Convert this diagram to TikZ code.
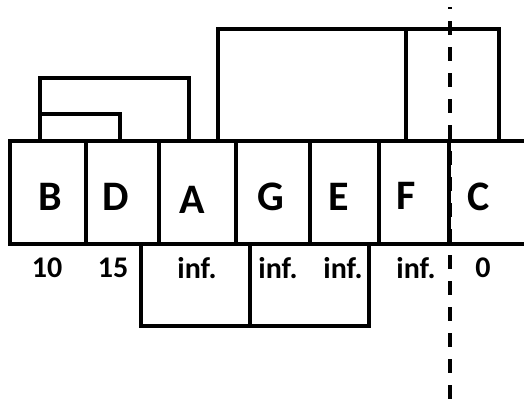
\documentclass[tikz,border=0pt]{standalone}
\usepackage{fontspec}
\setmainfont{Carlito}
\begin{document}
\begin{tikzpicture}[x=1pt,y=-1pt,
  wall/.style={line width=3.4pt,line join=miter},
  cutline/.style={line width=3.2pt,dash pattern=on 14pt off 12pt,dash phase=12pt},
  letter/.style={inner sep=0pt,font=\fontsize{42}{44}\selectfont\bfseries},
  cost/.style={inner sep=0pt,font=\fontsize{30}{32}\selectfont\bfseries}]
\useasboundingbox (0,0) rectangle (524,400);
% cell row
\draw[wall] (524,141) -- (10,141) -- (10,244) -- (524,244);
\foreach \x in {86,159,236,310,379,449}
  \draw[wall] (\x,141) -- (\x,244);
% cell names
\node[letter] (B) at (50,197) {B};
\node[letter] (D) at (116,197) {D};
\node[letter] (A) at (192,200) {A};
\node[letter] (G) at (271,197) {G};
\node[letter] (E) at (339,197) {E};
\node[letter] (F) at (406,196) {F};
\node[letter] (C) at (479,197) {C};
% costs
\node[cost] (cB) at (47,268) {10};
\node[cost] (cD) at (113,268) {15};
\node[cost] (cA) at (197,268) {inf.};
\node[cost] (cG) at (278,268) {inf.};
\node[cost] (cE) at (343,268) {inf.};
\node[cost] (cF) at (416,268) {inf.};
\node[cost] (cC) at (483,268) {0};
% brackets above the row
\draw[wall] (40,141) -- (40,78) -- (189,78) -- (189,141);
\draw[wall] (40,114) -- (120,114) -- (120,141);
\draw[wall] (218,143) -- (218,29) -- (499,29) -- (499,141);
\draw[wall] (406,29) -- (406,141);
% bracket below the row
\draw[wall] (141,244) -- (141,326) -- (369,326) -- (369,244);
\draw[wall] (250,244) -- (250,326);
% dashed cut
\draw[cutline] (450,7) -- (450,400);
\end{tikzpicture}
\end{document}
